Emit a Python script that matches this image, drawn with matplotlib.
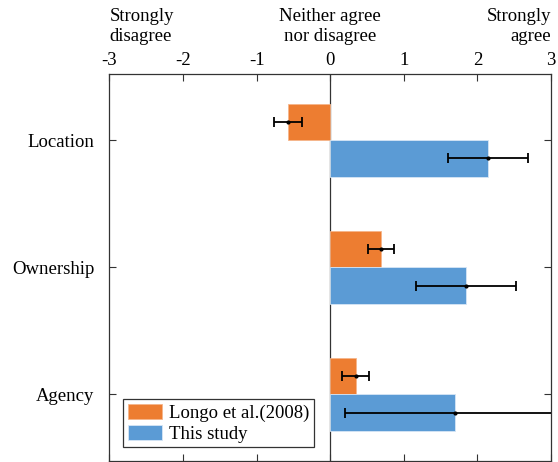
import matplotlib.pyplot as plt
import numpy as np

categories = ["Location", "Ownership", "Agency"]

longo_mean = [-0.57, 0.69, 0.35]
longo_lo = [-0.76, 0.51, 0.16]
longo_hi = [-0.38, 0.86, 0.52]

study_mean = [2.14, 1.84, 1.69]
study_lo = [1.60, 1.16, 0.20]
study_hi = [2.68, 2.52, 3.18]

xticks = [-3, -2, -1, 0, 1, 2, 3]

plt.rcParams["font.family"] = ["Liberation Serif", "DejaVu Serif"]
fs = 13.5

fig = plt.figure(figsize=(5.58, 4.62), dpi=100)
ax = fig.add_axes([0.1962, 0.003, 0.7914, 0.8367])

y = np.arange(1, len(categories) + 1)
w = 0.286

orange = "#ED7D31"
blue = "#5B9BD5"

ax.barh(y - w / 2, longo_mean, height=w, color=orange, edgecolor="#f5b58a",
        linewidth=0.6, label="Longo et al.(2008)", zorder=2)
ax.barh(y + w / 2, study_mean, height=w, color=blue, edgecolor="#d6e6f5",
        linewidth=0.6, label="This study", zorder=2)

lo_err = np.array(longo_mean) - np.array(longo_lo)
hi_err = np.array(longo_hi) - np.array(longo_mean)
ax.errorbar(longo_mean, y - w / 2, xerr=[lo_err, hi_err], fmt="o", ms=2,
            color="black", ecolor="black", elinewidth=1.3, capsize=3.6,
            capthick=1.3, zorder=3)

lo_err = np.array(study_mean) - np.array(study_lo)
hi_err = np.array(study_hi) - np.array(study_mean)
ax.errorbar(study_mean, y + w / 2, xerr=[lo_err, hi_err], fmt="o", ms=2,
            color="black", ecolor="black", elinewidth=1.3, capsize=3.6,
            capthick=1.3, zorder=3)

ax.axvline(0, color="#333333", linewidth=0.9, zorder=1)

ax.set_xlim(-3, 3)
ax.set_ylim(3.52, 0.48)
ax.set_xticks(xticks)
ax.set_xticklabels([str(t) for t in xticks])
ax.set_yticks(y)
ax.set_yticklabels(categories)

ax.xaxis.tick_top()
ax.tick_params(axis="x", which="both", direction="in", top=True, bottom=True,
               labeltop=True, labelbottom=False, length=5, width=0.8,
               labelsize=fs, pad=3.5, color="#333333")
ax.tick_params(axis="y", direction="in", left=True, right=True, length=5,
               width=0.8, labelsize=fs, pad=11, color="#333333")
for s in ax.spines.values():
    s.set_color("#333333")
    s.set_linewidth(0.9)

# scale end labels above the tick numbers
tr = ax.get_xaxis_transform()
ax.text(-3, 1.075, "Strongly\ndisagree", transform=tr,
        ha="left", va="bottom", fontsize=fs, linespacing=1.25)
ax.text(0, 1.075, "Neither agree\nnor disagree", transform=tr,
        ha="center", va="bottom", fontsize=fs, linespacing=1.25)
ax.text(3, 1.075, "Strongly\nagree", transform=tr,
        ha="right", va="bottom", fontsize=fs, linespacing=1.25)

leg = ax.legend(loc="lower left", bbox_to_anchor=(0.031, 0.034), fontsize=fs,
                fancybox=False, framealpha=1, edgecolor="#333333",
                handlelength=1.8, handleheight=0.85, borderpad=0.25,
                labelspacing=0.15, handletextpad=0.4, borderaxespad=0)
leg.get_frame().set_linewidth(0.9)

fig.savefig("out.png", dpi=100)
